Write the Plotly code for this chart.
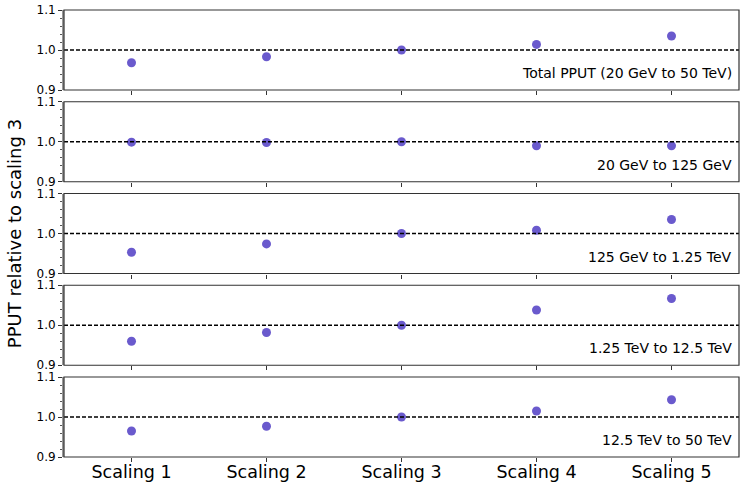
import plotly.graph_objects as go
from plotly.subplots import make_subplots

categories = ["Scaling 1", "Scaling 2", "Scaling 3", "Scaling 4", "Scaling 5"]
panel_labels = [
    "Total PPUT (20 GeV to 50 TeV)",
    "20 GeV to 125 GeV",
    "125 GeV to 1.25 TeV",
    "1.25 TeV to 12.5 TeV",
    "12.5 TeV to 50 TeV",
]
total_pput = [0.968, 0.983, 1.0, 1.014, 1.035]
range_20gev_125gev = [0.999, 0.998, 1.0, 0.990, 0.990]
range_125gev_1tev = [0.953, 0.974, 1.0, 1.008, 1.035]
range_1tev_12tev = [0.960, 0.982, 1.0, 1.038, 1.067]
range_12tev_50tev = [0.965, 0.977, 1.0, 1.015, 1.043]
series = [total_pput, range_20gev_125gev, range_125gev_1tev, range_1tev_12tev, range_12tev_50tev]
y_ticks = [0.9, 1.0, 1.1]
reference_level = 1.0

n = len(series)
fig = make_subplots(rows=n, cols=1, shared_xaxes=True, vertical_spacing=11.75 / 447)

font_family = "DejaVu Sans"
for i, vals in enumerate(series):
    r = i + 1
    fig.add_trace(
        go.Scatter(
            x=list(range(len(categories))),
            y=vals,
            mode="markers",
            marker=dict(color="#6a5acd", size=9),
            showlegend=False,
            hoverinfo="skip",
        ),
        row=r, col=1,
    )
    sfx = "" if r == 1 else str(r)
    fig.add_shape(
        type="line", xref=f"x{sfx} domain", yref=f"y{sfx}",
        x0=0, x1=1, y0=reference_level, y1=reference_level,
        line=dict(color="black", width=1.3, dash="4px,2px"),
    )
    fig.add_shape(
        type="rect", xref=f"x{sfx} domain", yref=f"y{sfx} domain",
        x0=0, x1=1, y0=0, y1=1,
        line=dict(color="#333333", width=1.2), layer="above",
    )
    fig.add_annotation(
        text=panel_labels[i], xref=f"x{sfx} domain", yref=f"y{sfx} domain",
        x=0.993, y=0.21, xanchor="right", yanchor="middle",
        showarrow=False, font=dict(family=font_family, size=14, color="black"),
    )
    fig.update_yaxes(
        range=[0.9, 1.1], tickvals=y_ticks, ticktext=[f"{v:.1f}" for v in y_ticks],
        ticks="outside", ticklen=4, tickcolor="#333",
        minor=dict(dtick=0.02, ticks="outside", ticklen=2, tickcolor="#555", showgrid=False),
        showgrid=False, zeroline=False, showline=True, linecolor="#999999", linewidth=2,
        tickfont=dict(family=font_family, size=12, color="black"),
        automargin=False,
        row=r, col=1,
    )
    fig.update_xaxes(
        range=[-0.5, len(categories) - 0.5],
        tickvals=list(range(len(categories))), ticktext=categories,
        ticks="outside", ticklen=4, tickcolor="#333",
        showticklabels=(r == n), showgrid=False, zeroline=False,
        showline=False, automargin=False,
        tickfont=dict(family=font_family, size=17.5, color="black"),
        row=r, col=1,
    )
fig.update_xaxes(ticklabelstandoff=-5, row=n, col=1)

fig.add_annotation(
    text="PPUT relative to scaling 3", xref="paper", yref="paper",
    x=-0.073, y=0.5, textangle=-90, showarrow=False,
    xanchor="center", yanchor="middle",
    font=dict(family=font_family, size=18, color="black"),
)

fig.update_layout(
    width=747, height=486,
    margin=dict(l=64, r=8, t=10, b=29, autoexpand=False),
    plot_bgcolor="white", paper_bgcolor="white",
    font=dict(family=font_family),
    hovermode=False,
)

fig.write_html(
    "out.html",
    config={"displayModeBar": False},
    post_script="document.body.style.margin='0';document.body.style.overflow='hidden';",
)
